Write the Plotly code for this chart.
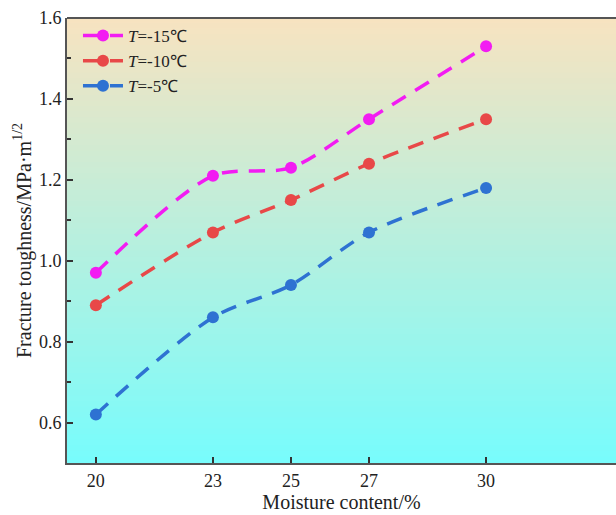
import plotly.graph_objects as go

moisture = [20, 23, 25, 27, 30]
t15 = [0.97, 1.21, 1.23, 1.35, 1.53]
t10 = [0.89, 1.07, 1.15, 1.24, 1.35]
t5 = [0.62, 0.86, 0.94, 1.07, 1.18]
names = ["<i>T</i>=-15℃", "<i>T</i>=-10℃", "<i>T</i>=-5℃"]
colors = ["#F21CF2", "#E84848", "#2E72D2"]

fig = go.Figure()
for ys, nm, c in zip([t15, t10, t5], names, colors):
    fig.add_trace(go.Scatter(
        x=moisture, y=ys, name=nm, mode="lines+markers",
        line=dict(color=c, width=3.5, dash="16px,11px", shape="spline", smoothing=0.8),
        marker=dict(size=12, color=c, line=dict(width=0)),
    ))

# gradient background
top = (247, 227, 192)
bot = (120, 252, 252)
n = 80
for i in range(n):
    f = i / (n - 1)
    col = tuple(int(round(top[k] + (bot[k] - top[k]) * f)) for k in range(3))
    fig.add_shape(type="rect", xref="x domain", yref="y domain",
                  x0=0, x1=1, y0=1 - (i + 1) / n, y1=1 - i / n + 0.002,
                  fillcolor="rgb(%d,%d,%d)" % col, line=dict(width=0), layer="below")
fig.add_shape(type="line", xref="x domain", yref="y domain", x0=0, x1=1, y0=1, y1=1,
              line=dict(color="#555555", width=2))

font = dict(family="Liberation Serif, Times New Roman, serif", color="#222222")
fig.update_layout(
    width=616, height=515,
    margin=dict(l=67, r=0, t=18, b=52),
    paper_bgcolor="white", plot_bgcolor="white",
    font=dict(size=18, **font),
    showlegend=True,
    legend=dict(x=0.02, y=1.0, xanchor="left", yanchor="top",
                bgcolor="rgba(0,0,0,0)", font=dict(size=17, **font),
                itemwidth=40, tracegroupgap=0),
    xaxis=dict(range=[19.26, 33.33], tickvals=moisture, ticks="inside", ticklen=6,
               tickwidth=1.5, tickcolor="#333", showline=True, linecolor="#555555",
               linewidth=2, showgrid=False, zeroline=False,
               title=dict(text="Moisture content/%", font=dict(size=20, **font), standoff=0)),
    yaxis=dict(range=[0.5, 1.6], dtick=0.2, tick0=0.6, ticks="inside", ticklen=6,
               tickwidth=1.5, tickcolor="#333", tickformat=".1f",
               showline=True, linecolor="#555555", linewidth=2,
               showgrid=False, zeroline=False,
               minor=dict(dtick=0.1, ticks="inside", ticklen=4, tickcolor="#333", showgrid=False),
               title=dict(text="Fracture toughness/MPa·m<sup>1/2</sup>",
                          font=dict(size=20, **font), standoff=2)),
)
fig.write_html("out.html")
